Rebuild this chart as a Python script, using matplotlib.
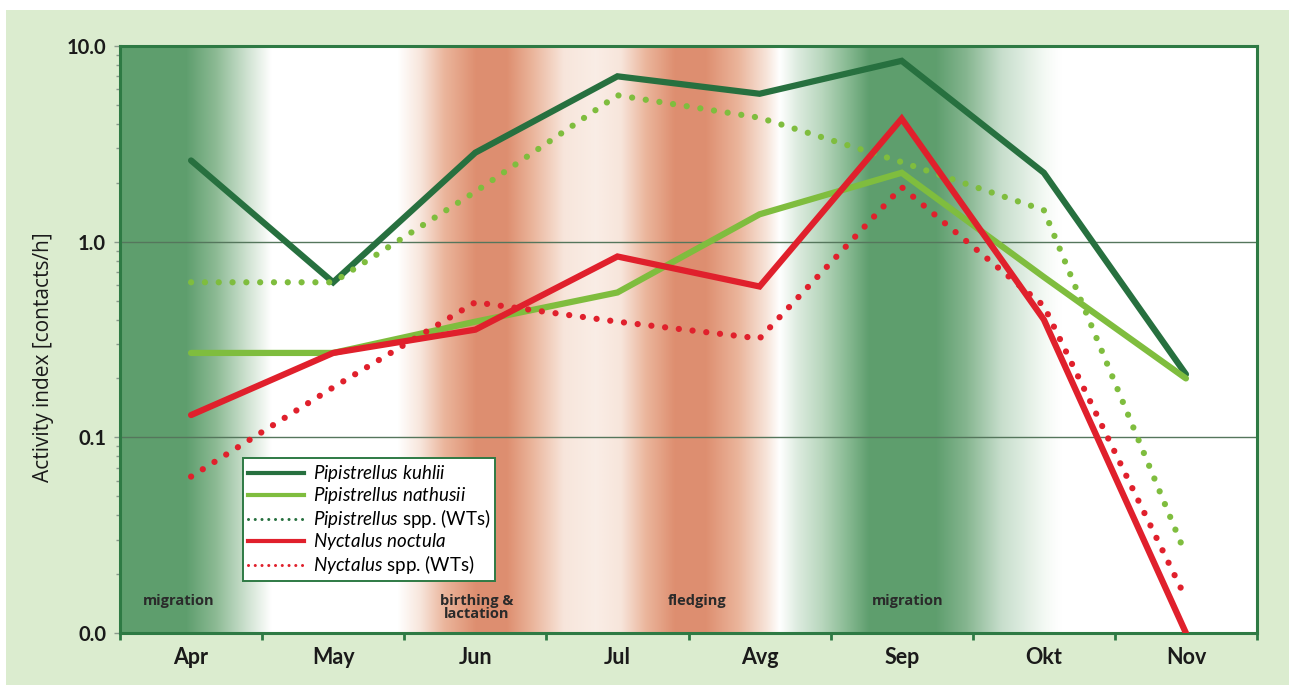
import matplotlib
matplotlib.use("Agg")
import matplotlib.pyplot as plt
from matplotlib.lines import Line2D
from matplotlib.patches import Rectangle
from matplotlib.ticker import FixedLocator, FixedFormatter, LogLocator, NullFormatter
import numpy as np

plt.rcParams["font.family"] = ["Lato", "DejaVu Sans"]
plt.rcParams["mathtext.fontset"] = "custom"
plt.rcParams["mathtext.rm"] = "Lato"
plt.rcParams["mathtext.it"] = "Lato:italic"

months = ["Apr", "May", "Jun", "Jul", "Avg", "Sep", "Okt", "Nov"]

# activity index, contacts per hour
kuhlii = [2.6, 0.62, 2.85, 7.0, 5.7, 8.4, 2.25, 0.21]
nathusii = [0.27, 0.27, 0.39, 0.55, 1.38, 2.25, 0.66, 0.2]
pip_spp = [0.62, 0.62, 1.8, 5.6, 4.3, 2.55, 1.45, 0.025]
noctula = [0.13, 0.27, 0.355, 0.84, 0.59, 4.25, 0.40, 0.01]
nyc_spp = [0.063, 0.18, 0.49, 0.39, 0.32, 1.9, 0.47, 0.015]

y_ticks = [0.01, 0.1, 1.0, 10.0]
y_ticklabels = ["0.0", "0.1", "1.0", "10.0"]

DARK_GREEN = "#27703f"
LIGHT_GREEN = "#7fbd3e"
RED = "#e0202c"
FRAME = "#2e7a44"

x = np.arange(len(months))

fig = plt.figure(figsize=(12.89, 6.86), dpi=100)
fig.patch.set_facecolor("white")
fig.patches.append(Rectangle((6 / 1289, 1 / 686), 1 - 6 / 1289, 1 - 11 / 686,
                             transform=fig.transFigure, facecolor="#dbeccf",
                             edgecolor="none", zorder=-10))

ax = fig.add_axes([120 / 1289, 53 / 686, 1137 / 1289, 587 / 686])
ax.set_yscale("log")
ax.set_xlim(-0.5, len(months) - 0.5)
ax.set_ylim(0.01, 10)

# seasonal background: migration (green), birthing/lactation and fledging (salmon)
G = (0.37, 0.62, 0.43)
W = (1.0, 1.0, 1.0)
S = (0.87, 0.56, 0.44)
Sm = (0.92, 0.71, 0.61)
Sp = (0.97, 0.90, 0.86)
stops = [
    (-0.50, G), (-0.04, G), (0.17, (0.55, 0.73, 0.58)), (0.38, (0.80, 0.88, 0.81)),
    (0.56, W), (1.45, W), (1.61, Sp), (1.78, Sm), (2.00, S), (2.22, S),
    (2.40, Sm), (2.62, Sp), (2.84, (0.98, 0.93, 0.90)), (3.02, Sp), (3.20, Sm),
    (3.40, S), (3.62, S), (3.85, Sm), (4.05, Sp), (4.14, W),
    (4.27, (0.86, 0.92, 0.87)), (4.44, (0.72, 0.84, 0.74)), (4.60, (0.55, 0.74, 0.59)),
    (4.77, G), (5.24, G),
    (5.45, (0.52, 0.71, 0.56)), (5.70, (0.78, 0.87, 0.80)), (6.01, (0.96, 0.98, 0.96)),
    (6.12, W), (7.50, W),
]
sx = np.array([s[0] for s in stops])
sc = np.array([s[1] for s in stops])
gx = np.linspace(-0.5, len(months) - 0.5, 1200)
grad = np.stack([np.interp(gx, sx, sc[:, i]) for i in range(3)], axis=-1)[None, :, :]
ax.imshow(grad, extent=(-0.5, len(months) - 0.5, 0, 1), aspect="auto",
          transform=ax.get_xaxis_transform(), interpolation="bilinear", zorder=0)

ax.yaxis.grid(True, which="major", color="#55765c", linewidth=1.0)

lw = 4.5
dot = (0, (0.01, 2.2))
ax.plot(x, kuhlii, color=DARK_GREEN, lw=lw, solid_capstyle="round", solid_joinstyle="miter", zorder=3)
ax.plot(x, nathusii, color=LIGHT_GREEN, lw=lw, solid_capstyle="round", solid_joinstyle="miter", zorder=3)
ax.plot(x, pip_spp, color=LIGHT_GREEN, lw=lw, linestyle=dot, dash_capstyle="round", zorder=3)
ax.plot(x, noctula, color=RED, lw=lw, solid_capstyle="round", solid_joinstyle="miter", zorder=4)
ax.plot(x, nyc_spp, color=RED, lw=lw, linestyle=dot, dash_capstyle="round", zorder=4)

# axes frame and ticks
for sp in ax.spines.values():
    sp.set_color(FRAME)
    sp.set_linewidth(2.2)

ax.xaxis.set_major_locator(FixedLocator(x))
ax.set_xticklabels(months, fontsize=15.5, fontweight="bold", color="#1a1a1a")
ax.xaxis.set_minor_locator(FixedLocator(np.arange(-0.5, len(months))))
ax.tick_params(axis="x", which="major", length=0, pad=10)
ax.tick_params(axis="x", which="minor", length=5, width=2, color=FRAME, direction="out")

ax.yaxis.set_major_locator(FixedLocator(y_ticks))
ax.yaxis.set_major_formatter(FixedFormatter(y_ticklabels))
ax.yaxis.set_minor_locator(LogLocator(base=10, subs=np.arange(2, 10)))
ax.yaxis.set_minor_formatter(NullFormatter())
ax.tick_params(axis="y", which="major", length=4, width=1, color="#8a9a8c", pad=6,
               labelsize=14.5)
ax.tick_params(axis="y", which="minor", length=3, width=1, color="#8a9a8c")
for lab in ax.get_yticklabels():
    lab.set_fontweight("bold")
    lab.set_color("#1a1a1a")

ax.set_ylabel("Activity index [contacts/h]", fontsize=15, color="#1a1a1a", va="center",
              family=["Open Sans", "DejaVu Sans"])
ax.yaxis.set_label_coords(-0.0677, 0.47)

# season annotations
tr = ax.get_xaxis_transform()
note = dict(transform=tr, ha="center", va="center", fontsize=10.5, fontweight="bold",
            color="#2a2a2a", zorder=5, family=["Open Sans", "DejaVu Sans"])
ax.text(-0.085, 0.0545, "migration", **note)
ax.text(2.01, 0.043, "birthing &\nlactation", linespacing=0.95, **note)
ax.text(3.56, 0.0545, "fledging", **note)
ax.text(5.04, 0.0545, "migration", **note)

handles = [
    Line2D([], [], color=DARK_GREEN, lw=3),
    Line2D([], [], color=LIGHT_GREEN, lw=3),
    Line2D([], [], color=DARK_GREEN, lw=2.2, linestyle=(0, (0.01, 2.2)), dash_capstyle="round"),
    Line2D([], [], color=RED, lw=3),
    Line2D([], [], color=RED, lw=2.2, linestyle=(0, (0.01, 2.2)), dash_capstyle="round"),
]
labels = [
    r"$\it{Pipistrellus\ kuhlii}$",
    r"$\it{Pipistrellus\ nathusii}$",
    r"$\it{Pipistrellus}$ spp. (WTs)",
    r"$\it{Nyctalus\ noctula}$",
    r"$\it{Nyctalus}$ spp. (WTs)",
]
leg = ax.legend(handles, labels, loc="upper left", bbox_to_anchor=(0.108, 0.298),
                borderaxespad=0, fontsize=13.5, handlelength=3.0, handletextpad=0.45,
                labelspacing=0.05, borderpad=0.28, fancybox=False, framealpha=1,
                edgecolor=FRAME)
leg.get_frame().set_linewidth(1.4)
leg.set_zorder(6)

fig.savefig("out.png", dpi=100)
